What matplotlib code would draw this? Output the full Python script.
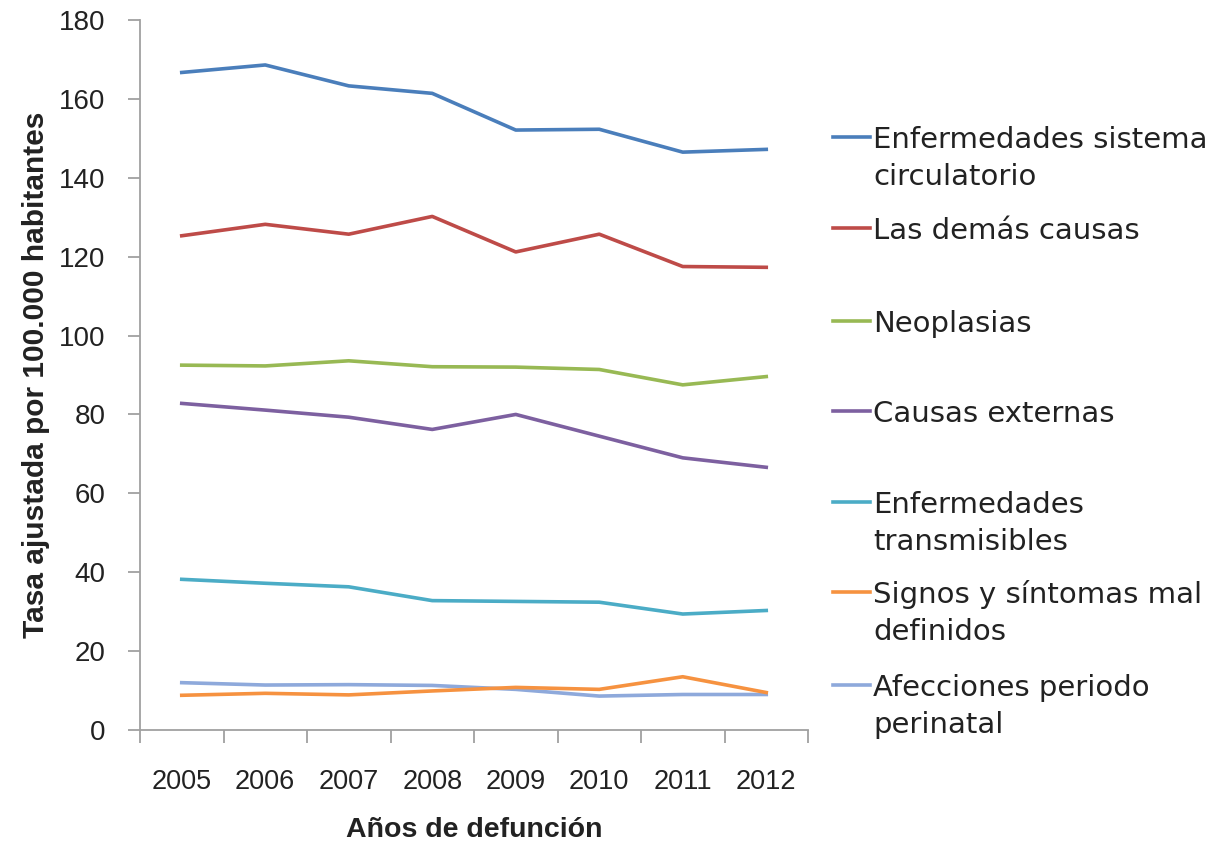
import matplotlib.pyplot as plt
from matplotlib.lines import Line2D

years = ["2005", "2006", "2007", "2008", "2009", "2010", "2011", "2012"]

causes = [
    "Enfermedades sistema\ncirculatorio",
    "Las demás causas",
    "Neoplasias",
    "Causas externas",
    "Enfermedades\ntransmisibles",
    "Signos y síntomas mal\ndefinidos",
    "Afecciones periodo\nperinatal",
]

circulatorio = [166.7, 168.6, 163.3, 161.4, 152.1, 152.3, 146.5, 147.2]
demas_causas = [125.3, 128.2, 125.7, 130.2, 121.2, 125.7, 117.5, 117.3]
neoplasias = [92.5, 92.3, 93.6, 92.1, 92.0, 91.4, 87.5, 89.6]
externas = [82.8, 81.1, 79.3, 76.2, 80.0, 74.5, 69.0, 66.6]
transmisibles = [38.2, 37.2, 36.3, 32.8, 32.6, 32.4, 29.4, 30.3]
mal_definidos = [8.8, 9.3, 8.9, 9.9, 10.8, 10.3, 13.5, 9.5]
perinatal = [12.0, 11.4, 11.5, 11.3, 10.3, 8.6, 9.0, 9.0]

series = [circulatorio, demas_causas, neoplasias, externas,
          transmisibles, mal_definidos, perinatal]
colors = ["#4A7EBB", "#BE4B48", "#98B954", "#7D60A0",
          "#4BACC6", "#F69240", "#8EA9DB"]

W, H = 1211, 846
fig = plt.figure(figsize=(W / 100, H / 100), dpi=100)
ax = fig.add_axes([140 / W, 1 - 730 / H, 668 / W, 710 / H])

xs = [i + 0.5 for i in range(len(years))]
# draw from the bottom series upwards so the top lines stay on top
for vals, col in reversed(list(zip(series, colors))):
    ax.plot(xs, vals, color=col, lw=2.6, solid_joinstyle="round")

ax.set_xlim(0, len(years))
ax.set_ylim(0, 180)
ax.set_yticks(range(0, 181, 20))
ax.set_xticks(range(len(years) + 1))
ax.set_xticklabels([])
ax.set_xticks(xs, minor=True)
ax.set_xticklabels(years, minor=True, fontsize=19.5, family="Liberation Sans",
                   color="#222222")
ax.tick_params(axis="x", which="minor", length=0, pad=28)
ax.tick_params(axis="x", which="major", length=9, color="#A0A0A0", width=1.3)
ax.tick_params(axis="y", length=9, color="#A0A0A0", width=1.3, pad=16)
for lab in ax.get_yticklabels():
    lab.set_fontsize(20)
    lab.set_family("Liberation Sans")
    lab.set_color("#222222")

for side in ("top", "right"):
    ax.spines[side].set_visible(False)
for side in ("left", "bottom"):
    ax.spines[side].set_color("#A0A0A0")
    ax.spines[side].set_linewidth(1.3)

ax.set_ylabel("Tasa ajustada por 100.000 habitantes", fontsize=21.5,
              fontweight="bold", family="Liberation Sans", labelpad=6,
              color="#222222")
ax.set_xlabel("Años de defunción", fontsize=20.5, fontweight="bold",
              family="Liberation Sans", labelpad=16, color="#222222")

# legend, laid out row by row to the right of the plot
legend_rows = [137, 228, 321, 411, 502, 592, 685]
line_gap = 37
for label, col, y in zip(causes, colors, legend_rows):
    fy = 1 - y / H
    fig.add_artist(Line2D([833 / W, 870 / W], [fy, fy], color=col,
                          lw=2.6, transform=fig.transFigure))
    for k, part in enumerate(label.split("\n")):
        fig.text(873 / W, 1 - (y + 11 + k * line_gap) / H, part,
                 fontsize=21, family="DejaVu Sans", va="baseline",
                 ha="left", color="#222222")

fig.savefig("out.png", dpi=100)
